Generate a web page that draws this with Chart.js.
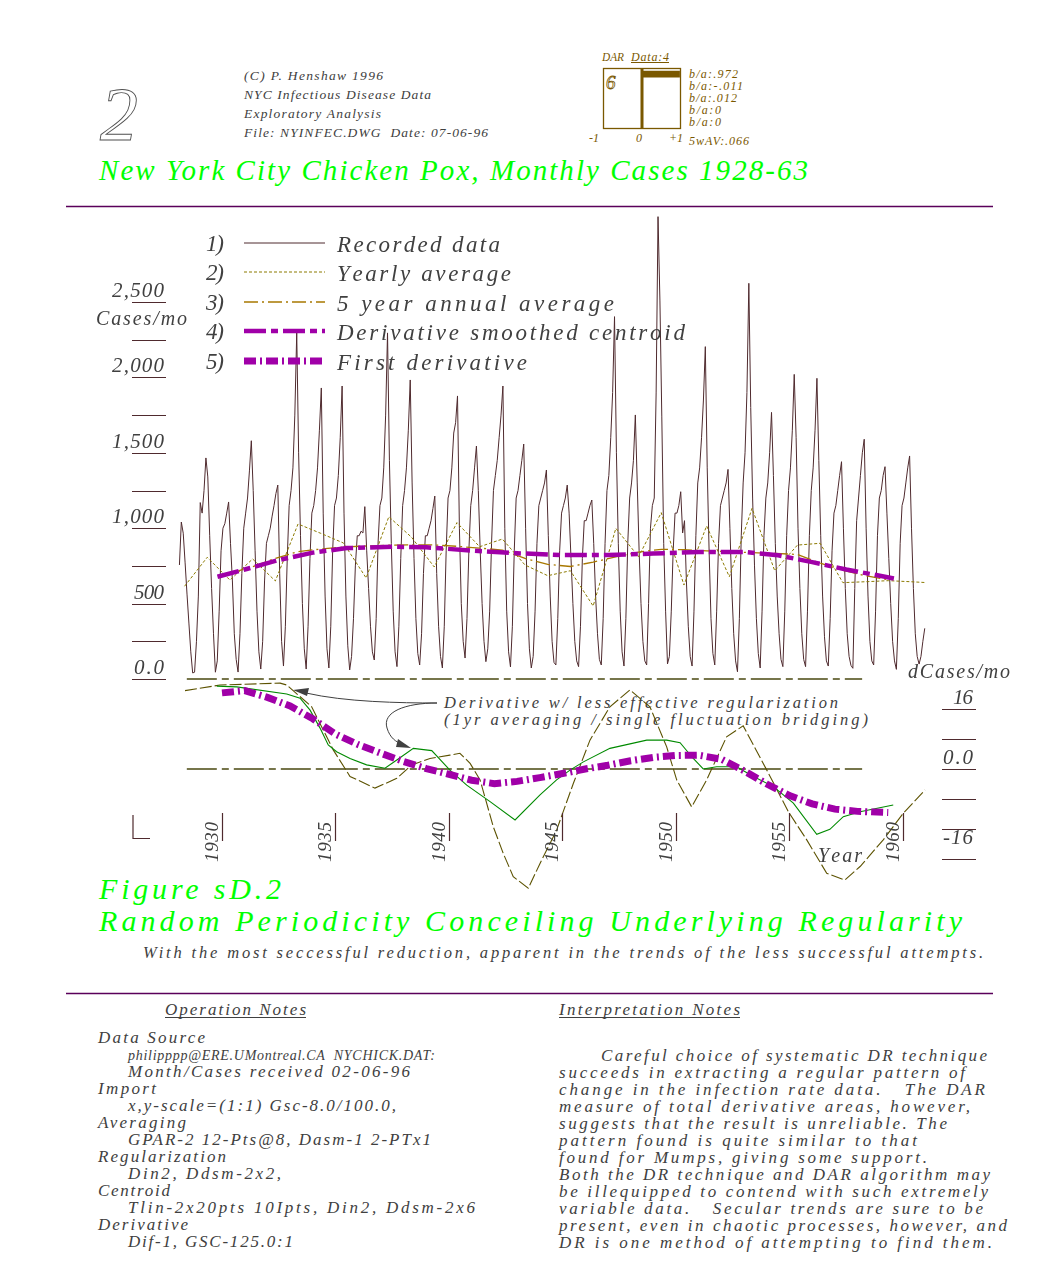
<!DOCTYPE html>
<html>
<head>
<meta charset="utf-8">
<script src="https://cdn.jsdelivr.net/npm/chart.js@4.4.1/dist/chart.umd.min.js"></script>
<style>
  html, body { margin: 0; padding: 0; background: #fff; }
  #page { position: relative; width: 1059px; height: 1280px; overflow: hidden; }
  svg, canvas { position: absolute; left: 0; top: 0; }
  svg text { font-family: 'Liberation Serif', serif; font-style: italic; white-space: pre; }
  #dar { left: 602px; top: 67px; }
</style>
</head>
<body>
<div id="page">
<svg width="1059" height="1280" xmlns="http://www.w3.org/2000/svg">
  <!-- header -->
  <text x="100" y="140" font-size="76" fill="none" stroke="#505050" stroke-width="0.9">2</text>
  <g fill="#404040" font-size="13.5">
    <text x="244" y="80" textLength="139" lengthAdjust="spacing">(C) P. Henshaw 1996</text>
    <text x="244" y="99" textLength="187" lengthAdjust="spacing">NYC Infectious Disease Data</text>
    <text x="244" y="118" textLength="137" lengthAdjust="spacing">Exploratory Analysis</text>
    <text x="244" y="137" textLength="244" lengthAdjust="spacing">File: NYINFEC.DWG  Date: 07-06-96</text>
  </g>
  <!-- DAR box labels -->
  <g fill="#7a5800" font-size="12">
    <text x="602" y="61" textLength="22" lengthAdjust="spacingAndGlyphs">DAR</text>
    <text x="631" y="61" textLength="38" lengthAdjust="spacing">Data:4</text>
    <text x="589" y="142">-1</text>
    <text x="636" y="142">0</text>
    <text x="669" y="142">+1</text>
    <text x="689" y="78" textLength="49" lengthAdjust="spacing">b/a:.972</text>
    <text x="689" y="90" textLength="54" lengthAdjust="spacing">b/a:-.011</text>
    <text x="689" y="102" textLength="48" lengthAdjust="spacing">b/a:.012</text>
    <text x="689" y="114" textLength="32" lengthAdjust="spacing">b/a:0</text>
    <text x="689" y="126" textLength="32" lengthAdjust="spacing">b/a:0</text>
    <text x="689" y="145" textLength="60" lengthAdjust="spacing">5wAV:.066</text>
  </g>
  <line x1="631" y1="62.5" x2="669" y2="62.5" stroke="#7a5800" stroke-width="1"/>
  <text x="606" y="89" font-size="19" fill="none" stroke="#7a5800" stroke-width="0.8">6</text>

  <text x="99" y="180" font-size="29" fill="#00ff00" textLength="709" lengthAdjust="spacing">New York City Chicken Pox, Monthly Cases 1928-63</text>
  <line x1="66" y1="206.5" x2="993" y2="206.5" stroke="#5a005a" stroke-width="1.3"/>

  <!-- annotation in lower panel -->
  <g fill="#404040" font-size="16.5">
    <text x="444" y="708" textLength="394" lengthAdjust="spacing">Derivative w/ less effective regularization</text>
    <text x="444" y="725" textLength="424" lengthAdjust="spacing">(1yr averaging / single fluctuation bridging)</text>
  </g>
  <g stroke="#404040" stroke-width="1" fill="none">
    <path d="M437 703 C 400 703, 345 702, 306 693"/>
    <path d="M437 703 C 405 703, 382 712, 387 728 C 390 738, 396 742, 402 744"/>
  </g>
  <g fill="#404040">
    <polygon points="293,690 309,688 307,696"/>
    <polygon points="411,748 398,739 396,747"/>
  </g>
  <path d="M133 815 V838.5 H150" stroke="#4f2a2e" stroke-width="1.2" fill="none"/>

  <!-- captions -->
  <g fill="#00ff00" font-size="30">
    <text x="99" y="899" textLength="182" lengthAdjust="spacing">Figure sD.2</text>
    <text x="99" y="931" textLength="863" lengthAdjust="spacing">Random Periodicity Conceiling Underlying Regularity</text>
  </g>
  <text x="143" y="958" font-size="16.5" fill="#404040" textLength="840" lengthAdjust="spacing">With the most seccessful reduction, apparent in the trends of the less successful attempts.</text>
  <line x1="66" y1="993.5" x2="993" y2="993.5" stroke="#5a005a" stroke-width="1.3"/>

  <!-- notes -->
  <g fill="#404040" font-size="17">
    <text x="165" y="1015" textLength="141" lengthAdjust="spacing">Operation Notes</text>
    <text x="98" y="1043" textLength="107" lengthAdjust="spacing">Data Source</text>
    <text x="128" y="1060" font-size="14" textLength="307" lengthAdjust="spacing">philipppp@ERE.UMontreal.CA  NYCHICK.DAT:</text>
    <text x="128" y="1077" textLength="282" lengthAdjust="spacing">Month/Cases received 02-06-96</text>
    <text x="98" y="1094" textLength="58" lengthAdjust="spacing">Import</text>
    <text x="128" y="1111" textLength="268" lengthAdjust="spacing">x,y-scale=(1:1) Gsc-8.0/100.0,</text>
    <text x="98" y="1128" textLength="88" lengthAdjust="spacing">Averaging</text>
    <text x="128" y="1145" textLength="303" lengthAdjust="spacing">GPAR-2 12-Pts@8, Dasm-1 2-PTx1</text>
    <text x="98" y="1162" textLength="128" lengthAdjust="spacing">Regularization</text>
    <text x="128" y="1179" textLength="153" lengthAdjust="spacing">Din2, Ddsm-2x2,</text>
    <text x="98" y="1196" textLength="72" lengthAdjust="spacing">Centroid</text>
    <text x="128" y="1213" textLength="347" lengthAdjust="spacing">Tlin-2x20pts 10Ipts, Din2, Ddsm-2x6</text>
    <text x="98" y="1230" textLength="90" lengthAdjust="spacing">Derivative</text>
    <text x="128" y="1247" textLength="165" lengthAdjust="spacing">Dif-1, GSC-125.0:1</text>

    <text x="559" y="1015" textLength="181" lengthAdjust="spacing">Interpretation Notes</text>
    <text x="601" y="1061" textLength="386" lengthAdjust="spacing">Careful choice of systematic DR technique</text>
    <text x="559" y="1078" textLength="406" lengthAdjust="spacing">succeeds in extracting a regular pattern of</text>
    <text x="559" y="1095" textLength="426" lengthAdjust="spacing">change in the infection rate data.   The DAR</text>
    <text x="559" y="1112" textLength="411" lengthAdjust="spacing">measure of total derivative areas, however,</text>
    <text x="559" y="1129" textLength="388" lengthAdjust="spacing">suggests that the result is unreliable. The</text>
    <text x="559" y="1146" textLength="358" lengthAdjust="spacing">pattern found is quite similar to that</text>
    <text x="559" y="1163" textLength="368" lengthAdjust="spacing">found for Mumps, giving some support.</text>
    <text x="559" y="1180" textLength="431" lengthAdjust="spacing">Both the DR technique and DAR algorithm may</text>
    <text x="559" y="1197" textLength="429" lengthAdjust="spacing">be illequipped to contend with such extremely</text>
    <text x="559" y="1214" textLength="424" lengthAdjust="spacing">variable data.   Secular trends are sure to be</text>
    <text x="559" y="1231" textLength="448" lengthAdjust="spacing">present, even in chaotic processes, however, and</text>
    <text x="559" y="1248" textLength="433" lengthAdjust="spacing">DR is one method of attempting to find them.</text>
  </g>
  <g stroke="#404040" stroke-width="1">
    <line x1="165" y1="1017.5" x2="306" y2="1017.5"/>
    <line x1="559" y1="1017.5" x2="740" y2="1017.5"/>
  </g>
</svg>
<canvas id="mainChart" width="1059" height="1280"></canvas>
<canvas id="dar" width="80" height="63"></canvas>
</div>

<script>
// monthly recorded cases, one row per year (Jan..Dec), starting 1928
const firstYear = 1928;
const monthlyCases = [
  [null, 756, 1041, 967, 770, 563, 371, 180, 40, 45, 250, 550],
  [1170, 1100, 1250, 1466, 1340, 950, 600, 300, 45, 120, 450, 850],
  [1000, 1030, 1100, 1174, 900, 650, 300, 130, 46, 300, 700, 1000],
  [1100, 1200, 1380, 1580, 1250, 850, 450, 180, 66, 250, 650, 900],
  [950, 1000, 1080, 1150, 1230, 1286, 700, 250, 86, 350, 800, 1150],
  [1250, 1400, 1750, 2295, 1500, 950, 500, 200, 66, 350, 800, 1100],
  [1150, 1250, 1400, 1650, 1930, 1100, 550, 200, 73, 350, 850, 1150],
  [1200, 1350, 1600, 1943, 1100, 550, 220, 60, 150, 400, 750, 950],
  [950, 980, 968, 1143, 850, 600, 350, 180, 126, 400, 900, 1150],
  [1200, 1400, 1750, 2295, 1450, 900, 450, 180, 82, 350, 800, 1150],
  [1250, 1400, 1650, 1983, 1300, 800, 400, 170, 93, 300, 700, 950],
  [950, 1000, 1050, 1130, 1213, 700, 350, 150, 73, 350, 850, 1200],
  [1250, 1400, 1631, 1700, 1877, 1000, 500, 250, 139, 400, 850, 1150],
  [1250, 1400, 1545, 1250, 850, 500, 250, 115, 200, 450, 900, 1250],
  [1350, 1450, 1600, 1750, 1943, 1000, 450, 180, 80, 350, 850, 1200],
  [1250, 1350, 1450, 1558, 1000, 500, 200, 73, 150, 450, 900, 1150],
  [1200, 1250, 1300, 1386, 950, 550, 250, 110, 93, 400, 850, 1100],
  [1150, 1200, 1286, 1100, 800, 500, 250, 120, 82, 350, 800, 1050],
  [1050, 1100, 1150, 1187, 900, 550, 300, 130, 93, 400, 900, 1250],
  [1350, 1600, 1900, 2403, 1500, 900, 450, 180, 86, 400, 900, 1200],
  [1300, 1450, 1751, 1300, 850, 500, 250, 120, 93, 500, 1000, 1150],
  [1200, 1897, 3066, 2513, 1738, 900, 450, 100, 150, 450, 850, 1100],
  [1100, 1150, 1242, 968, 1050, 650, 350, 150, 86, 450, 950, 1300],
  [1400, 1600, 1850, 2204, 1400, 850, 400, 170, 93, 450, 900, 1150],
  [1200, 1250, 1300, 1390, 1000, 600, 300, 120, 48, 400, 950, 1300],
  [1500, 1900, 2624, 1800, 1200, 750, 400, 170, 73, 450, 950, 1200],
  [1300, 1500, 1768, 1350, 900, 550, 300, 130, 82, 450, 950, 1250],
  [1400, 1650, 2020, 1600, 1000, 600, 300, 130, 82, 450, 950, 1250],
  [1400, 1650, 1994, 1450, 950, 550, 280, 120, 86, 400, 850, 1100],
  [1150, 1250, 1350, 1441, 1000, 600, 300, 150, 90, 71, 600, 1050],
  [1200, 1350, 1500, 1590, 1000, 550, 250, 120, 93, 450, 950, 1200],
  [1250, 1350, 1408, 1100, 800, 500, 250, 120, 64, 400, 900, 1150],
  [1200, 1300, 1400, 1479, 1000, 600, 300, 150, 99, 150, 250, 336]
];

// yearly average (one point per year) and its tail point
const avgYears = [1928.35, 1929.35, 1930.35, 1931.35, 1932.35, 1933.35, 1934.35, 1935.35, 1936.35, 1937.35,
  1938.35, 1939.35, 1940.35, 1941.35, 1942.35, 1943.35, 1944.35, 1945.35, 1946.35, 1947.35, 1948.35,
  1949.35, 1950.35, 1951.35, 1952.35, 1953.35, 1954.35, 1955.35, 1956.35, 1957.35, 1958.35, 1959.35,
  1960.35, 1960.95];
const yearlyAvg = [615, 807, 656, 796, 650, 1028, 966, 902, 670, 1076, 940, 743, 1037, 877, 928, 756,
  685, 718, 484, 999, 811, 1103, 623, 1015, 678, 1132, 718, 888, 900, 639, 645, 652, 645, 640];

// 5 year annual average
const fiveYrYears = [1930.35, 1931.35, 1932.35, 1933.35, 1934.35, 1935.35, 1936.35, 1937.35, 1938.35, 1939.35,
  1940.35, 1941.35, 1942.35, 1943.35, 1944.35, 1945.35, 1946.35, 1947.35, 1948.35, 1949.35, 1950.35,
  1951.35, 1952.35, 1953.35, 1954.35, 1955.35, 1956.35, 1957.35, 1958.35, 1959.35];
const fiveYrAvg = [700, 745, 800, 845, 862, 875, 882, 888, 889, 889, 880, 868, 855, 800, 760, 746, 775,
  810, 842, 860, 858, 850, 844, 838, 833, 826, 768, 720, 685, 658];

// derivative smoothed centroid
const centroidYears = [1929.8, 1931, 1932.5, 1934, 1935.5, 1937.5, 1939, 1941, 1943, 1945, 1947, 1949,
  1951, 1953, 1954.5, 1956, 1957.5, 1959.6];
const centroid = [678, 726, 789, 838, 868, 877, 873, 852, 834, 822, 822, 832, 842, 843, 820, 775, 726, 667];

// first derivative (dCases/mo)
const derivYears = [1930, 1931, 1932, 1933, 1934, 1935, 1936, 1937, 1938, 1939, 1940, 1941, 1942, 1943,
  1944, 1945, 1946, 1947, 1948, 1949, 1950, 1951, 1952, 1953, 1954, 1955, 1956, 1957, 1958, 1959.35];
const firstDeriv = [20.3, 20.9, 19.1, 16.8, 13.4, 9.3, 6.5, 4.2, 2.0, 0.1, -1.4, -3.0, -3.9, -3.3,
  -2.3, -1.2, 0.0, 1.0, 2.2, 3.1, 3.6, 3.7, 2.6, -0.5, -4.0, -7.1, -9.3, -10.7, -11.3, -11.6];

// derivatives with less effective regularization
const greenYears = [1929.77, 1930.65, 1932.85, 1933.44, 1933.88, 1934.32, 1934.68, 1935.05, 1935.64,
  1936.37, 1937.18, 1937.7, 1938.43, 1939.24, 1940.04, 1940.78, 1941.81, 1942.91, 1944.01, 1944.74,
  1945.33, 1945.92, 1947.09, 1948.71, 1949.59, 1950.18, 1950.76, 1951.2, 1951.79, 1952.67, 1953.41,
  1954.29, 1955.17, 1956.2, 1956.78, 1957.37, 1958.11, 1959.57];
const greenDeriv = [22.1, 21.9, 20.0, 18.9, 15.7, 10.9, 6.4, 4.6, 2.8, 1.1, 0.2, 2.4, 5.5, 4.9, -0.3,
  -4.3, -8.7, -13.6, -6.9, -2.9, -0.3, 1.9, 5.5, 7.7, 7.7, 7.0, 2.8, 0.0, 0.6, 0.6, -2.0, -4.7, -9.1,
  -17.4, -16.1, -12.7, -11.4, -9.6];
const oliveYears = [1928.37, 1929.91, 1932.56, 1932.85, 1933.95, 1934.46, 1934.9, 1935.64, 1936.74,
  1937.7, 1938.36, 1939.16, 1940.04, 1940.48, 1940.93, 1941.37, 1941.95, 1942.39, 1942.83, 1943.49,
  1944.01, 1944.74, 1945.48, 1946.21, 1947.09, 1947.97, 1948.85, 1949.59, 1950.03, 1950.69, 1951.35,
  1952.23, 1952.96, 1954.0, 1954.95, 1955.76, 1956.64, 1957.44, 1958.11, 1959.13, 1960.01, 1960.97];
const oliveDeriv = [20.9, 22.4, 22.9, 22.4, 16.6, 10.4, 5.1, -2.0, -5.1, -2.5, 1.1, 2.8, 3.7, 4.2, 1.5,
  -2.9, -15.4, -22.5, -28.7, -31.8, -25.2, -16.3, -3.8, 7.7, 16.6, 21.1, 16.6, 5.9, -2.9, -10.1, -2.9,
  8.6, 11.5, -0.3, -11.4, -18.9, -27.8, -29.6, -26.0, -18.9, -11.8, -5.6];

// zero reference lines
const baselineYears = [1928.45, 1958.2];

// axes
const caseTicks = [0, 250, 500, 750, 1000, 1250, 1500, 1750, 2000, 2250, 2500];
const caseLabelValues = [0, 500, 1000, 1500, 2000, 2500];
const caseLabels = ["0.0", "500", "1,000", "1,500", "2,000", "2,500"];
const derivTicks = [16, 8, 0, -8, -16, -24];
const derivLabelValues = [16, 0, -16];
const derivLabels = ["16", "0.0", "-16"];
const yearTicks = [1930, 1935, 1940, 1945, 1950, 1955, 1960];

const legendLabels = ["Recorded data", "Yearly average", "5 year annual average",
  "Derivative smoothed centroid", "First derivative"];

// DAR box
const darRows = ["1", "2", "3", "4", "5"];
const darValues = [0.972, -0.011, 0.012, 0, 0];

const textColor = "#404040";
const tickColor = "#4f2a2e";
const italicFont = size => "italic " + size + "px 'Liberation Serif', serif";

function pairs(xs, ys) {
    return xs.map((x, i) => ({ x: x, y: ys[i] }));
}

// recorded data points at mid-month
const recorded = [];
monthlyCases.forEach((row, r) => {
    row.forEach((v, m) => {
        if (v !== null) recorded.push({ x: firstYear + r + (m + 0.5) / 12, y: v });
    });
});

// draw text stretched to a given width
function drawSpaced(ctx, text, x, y, width) {
    const chars = Array.from(text);
    const natural = chars.reduce((s, c) => s + ctx.measureText(c).width, 0);
    const gap = chars.length > 1 ? (width - natural) / (chars.length - 1) : 0;
    let cx = x;
    chars.forEach(c => {
        ctx.fillText(c, cx, y);
        cx += ctx.measureText(c).width + gap;
    });
}

function hline(ctx, x1, x2, y) {
    ctx.beginPath();
    ctx.moveTo(x1, y);
    ctx.lineTo(x2, y);
    ctx.stroke();
}

const decorPlugin = {
    id: "decor",
    afterDraw(chart) {
        const ctx = chart.ctx;
        const { x, y, yd } = chart.scales;
        ctx.save();
        ctx.textAlign = "left";
        ctx.textBaseline = "alphabetic";

        // cases axis on the left
        ctx.strokeStyle = tickColor;
        ctx.lineWidth = 1.2;
        caseTicks.forEach(v => hline(ctx, 132, 166, Math.round(y.getPixelForValue(v)) + 0.5));
        ctx.fillStyle = textColor;
        ctx.font = italicFont(21);
        caseLabelValues.forEach((v, i) => {
            const t = caseLabels[i];
            const w = t.length > 3 ? 52 : 30;
            drawSpaced(ctx, t, 164 - w, y.getPixelForValue(v) - 5, w);
        });
        ctx.font = italicFont(20);
        drawSpaced(ctx, "Cases/mo", 96, y.getPixelForValue(2500) + 23, 91);

        // derivative axis on the right
        derivTicks.forEach(v => hline(ctx, 942, 976, Math.round(yd.getPixelForValue(v)) + 0.5));
        ctx.font = italicFont(21);
        derivLabelValues.forEach((v, i) => {
            const t = derivLabels[i];
            const w = t.length * 10;
            const py = yd.getPixelForValue(v);
            drawSpaced(ctx, t, 973 - w, v < 0 ? py + 15 : py - 5, w);
        });
        ctx.font = italicFont(20);
        drawSpaced(ctx, "dCases/mo", 908, 678, 102);

        // year ticks
        ctx.font = italicFont(19);
        yearTicks.forEach(yr => {
            const px = Math.round(x.getPixelForValue(yr)) + 0.5;
            ctx.beginPath();
            ctx.moveTo(px, 813);
            ctx.lineTo(px, 841);
            ctx.stroke();
            ctx.save();
            ctx.translate(px - 5, 862);
            ctx.rotate(-Math.PI / 2);
            drawSpaced(ctx, String(yr), 0, 0, 40);
            ctx.restore();
        });
        ctx.font = italicFont(20);
        drawSpaced(ctx, "Year", 818, 862, 44);

        // legend
        const rowY = [243, 272, 302, 331, 361];
        const textW = [163, 174, 277, 348, 190];
        const ds = chart.data.datasets;
        legendLabels.forEach((label, i) => {
            const d = ds[i];
            ctx.font = italicFont(23);
            ctx.fillStyle = textColor;
            drawSpaced(ctx, (i + 1) + ")", 206, rowY[i] + 8, 18);
            drawSpaced(ctx, label, 337, rowY[i] + 8.5, textW[i]);
            ctx.save();
            ctx.strokeStyle = d.borderColor;
            ctx.lineWidth = d.borderWidth;
            ctx.setLineDash(d.borderDash || []);
            hline(ctx, 244, 325, rowY[i]);
            ctx.restore();
        });
        ctx.restore();
    }
};

new Chart(document.getElementById("mainChart"), {
    type: "line",
    data: {
        datasets: [
            { label: legendLabels[0], data: recorded, yAxisID: "y", borderColor: "#4f2a2e", borderWidth: 1, order: 7 },
            { label: legendLabels[1], data: pairs(avgYears, yearlyAvg), yAxisID: "y", borderColor: "#8c7a00", borderWidth: 1, borderDash: [3, 2], order: 3 },
            { label: legendLabels[2], data: pairs(fiveYrYears, fiveYrAvg), yAxisID: "y", borderColor: "#a87800", borderWidth: 1.3, borderDash: [14, 4, 2, 4], order: 2 },
            { label: legendLabels[3], data: pairs(centroidYears, centroid), yAxisID: "y", borderColor: "#a000a8", borderWidth: 4.5, borderDash: [22, 5, 7, 5], order: 1 },
            { label: legendLabels[4], data: pairs(derivYears, firstDeriv), yAxisID: "yd", borderColor: "#a000a8", borderWidth: 7, borderDash: [12, 4, 2, 4], order: 0 },
            { label: "less regularized", data: pairs(greenYears, greenDeriv), yAxisID: "yd", borderColor: "#008a00", borderWidth: 1.1, order: 4 },
            { label: "1yr averaging", data: pairs(oliveYears, oliveDeriv), yAxisID: "yd", borderColor: "#5c5200", borderWidth: 1.1, borderDash: [12, 3], order: 5 },
            { label: "cases zero", data: pairs(baselineYears, [0, 0]), yAxisID: "y", borderColor: "#4a4810", borderWidth: 1.5, borderDash: [30, 5, 7, 5], order: 6 },
            { label: "deriv zero", data: pairs(baselineYears, [0, 0]), yAxisID: "yd", borderColor: "#4a4810", borderWidth: 1.5, borderDash: [30, 5, 7, 5], order: 6 }
        ]
    },
    options: {
        responsive: false,
        animation: false,
        events: [],
        layout: { padding: { left: 170, right: 119, top: 200, bottom: 380 } },
        elements: { point: { radius: 0 }, line: { tension: 0, fill: false } },
        plugins: { legend: { display: false }, tooltip: { enabled: false } },
        scales: {
            x: { type: "linear", min: 1927.7093, max: 1961.63, display: false },
            y: { type: "linear", min: -1465.5, max: 3176.4, display: false },
            yd: { type: "linear", min: -34.933, max: 151.733, display: false }
        }
    },
    plugins: [decorPlugin]
});

// DAR box: frame and thick zero line
const darFrame = {
    id: "darFrame",
    afterDraw(chart) {
        const { ctx, chartArea: a } = chart;
        const x0 = chart.scales.x.getPixelForValue(0);
        ctx.save();
        ctx.strokeStyle = "#7a5800";
        ctx.fillStyle = "#7a5800";
        ctx.lineWidth = 1.3;
        ctx.strokeRect(a.left + 0.5, a.top + 0.5, a.right - a.left - 1, a.bottom - a.top - 1);
        ctx.fillRect(x0 - 1.5, a.top, 3, a.bottom - a.top);
        ctx.restore();
    }
};

new Chart(document.getElementById("dar"), {
    type: "bar",
    data: {
        labels: darRows,
        datasets: [{ data: darValues, backgroundColor: "#7a5800", barPercentage: 0.55, categoryPercentage: 1 }]
    },
    options: {
        indexAxis: "y",
        responsive: false,
        animation: false,
        events: [],
        layout: { padding: 1 },
        plugins: { legend: { display: false }, tooltip: { enabled: false } },
        scales: {
            x: { min: -1, max: 1, display: false },
            y: { display: false }
        }
    },
    plugins: [darFrame]
});
</script>
</body>
</html>
